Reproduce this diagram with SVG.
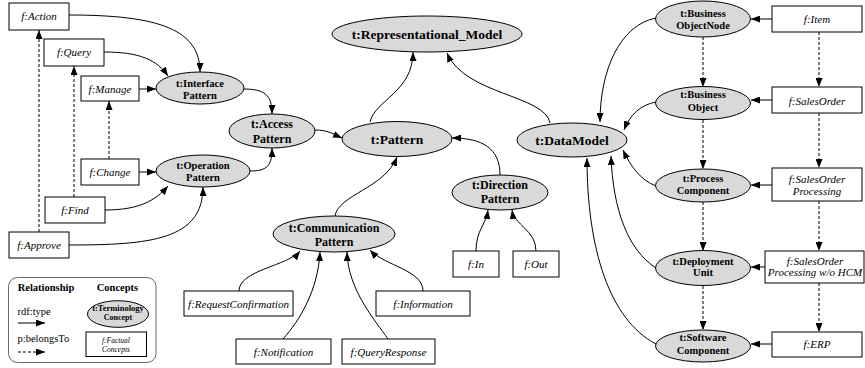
<svg xmlns="http://www.w3.org/2000/svg" width="865" height="368" viewBox="0 0 865 368">
<style>
.t{fill:#d9d9d9;stroke:#000;stroke-width:1}
.f{fill:#fff;stroke:#000;stroke-width:1}
.tt{font-family:"Liberation Serif",serif;font-weight:bold;text-anchor:middle;fill:#000}
.ft{font-family:"Liberation Serif",serif;font-style:italic;text-anchor:middle;fill:#000}
.s{fill:none;stroke:#000;stroke-width:1;marker-end:url(#a)}
.d{fill:none;stroke:#000;stroke-width:1;stroke-dasharray:3,2;marker-end:url(#a)}
.lg{font-family:"Liberation Serif",serif;fill:#000}
</style>
<defs>
<marker id="a" markerUnits="userSpaceOnUse" markerWidth="9" markerHeight="7" refX="9" refY="3.5" orient="auto">
<path d="M0,0 L9,3.5 L0,7 z" fill="#000"/>
</marker>
</defs>
<rect width="865" height="368" fill="#fff"/>

<g id="connectors">
<path class="s" d="M69,15 C160,15 200,30 200,72"/>
<path class="s" d="M104,52 C140,52 157,60 168,76"/>
<path class="s" d="M139,89 L156,89"/>
<path class="s" d="M139,172 L156,172"/>
<path class="s" d="M105,210 C140,210 156,200 168,186"/>
<path class="s" d="M69,245 C150,245 203,240 203,187"/>
<path class="s" d="M243,89 C265,89 272,95 272,114"/>
<path class="s" d="M250,171 C268,171 272,165 272,148"/>
<path class="s" d="M315,130 C328,130 333,134 342,138"/>
<path class="s" d="M370,122 C375,100 413,92 413,52"/>
<path class="s" d="M550,123 C545,95 465,95 447,53"/>
<path class="s" d="M500,175 C500,148 482,138 452,138"/>
<path class="s" d="M335,216 C338,195 385,188 397,157"/>
<path class="s" d="M476,251 C476,230 486,225 488,210"/>
<path class="s" d="M536,251 C536,230 514,225 512,210"/>
<path class="s" d="M239,291 C239,270 288,266 300,251"/>
<path class="s" d="M283,339 C300,320 318,290 320,252"/>
<path class="s" d="M388,339 C375,320 348,290 347,252"/>
<path class="s" d="M423,291 C423,270 385,266 370,250"/>
<path class="d" d="M39,232 L39,30"/>
<path class="d" d="M74,197 L74,66"/>
<path class="d" d="M109,159 L109,101"/>
<path class="s" d="M656,18 C620,25 600,70 600,122"/>
<path class="s" d="M656,102 C640,105 630,115 624,130"/>
<path class="s" d="M656,186 C640,180 630,165 623,150"/>
<path class="s" d="M656,268 C628,250 613,210 611,156"/>
<path class="s" d="M656,344 C610,320 587,250 587,158"/>
<path class="d" d="M703,37 L703,87"/>
<path class="d" d="M703,120 L703,169"/>
<path class="d" d="M703,202 L703,251"/>
<path class="d" d="M703,286 L703,330"/>
<path class="d" d="M819,32 L819,87"/>
<path class="d" d="M819,113 L819,168"/>
<path class="d" d="M819,201 L819,251"/>
<path class="d" d="M819,283 L819,332"/>
<path class="s" d="M772,19 L751,19"/>
<path class="s" d="M772,100 L751,100"/>
<path class="s" d="M772,185 L751,185"/>
<path class="s" d="M766,267 L751,267"/>
<path class="s" d="M772,344 L751,344"/>
</g>

<g id="n-repmodel"><ellipse class="t" cx="427" cy="34" rx="95" ry="18"/><text class="tt" x="427" y="39" style="font-size:13.5px">t:Representational_Model</text></g>
<g id="n-pattern"><ellipse class="t" cx="397" cy="139" rx="55" ry="17.5"/><text class="tt" x="397" y="144" style="font-size:13.5px">t:Pattern</text></g>
<g id="n-datamodel"><ellipse class="t" cx="572" cy="140" rx="55" ry="17"/><text class="tt" x="572" y="145" style="font-size:13.5px">t:DataModel</text></g>
<g id="n-interface"><ellipse class="t" cx="200" cy="88" rx="44" ry="16"/><text class="tt" x="200" y="87" style="font-size:10.5px">t:Interface</text><text class="tt" x="200" y="99" style="font-size:10.5px">Pattern</text></g>
<g id="n-operation"><ellipse class="t" cx="203" cy="171" rx="47" ry="16"/><text class="tt" x="203" y="169" style="font-size:10.5px">t:Operation</text><text class="tt" x="203" y="181" style="font-size:10.5px">Pattern</text></g>
<g id="n-access"><ellipse class="t" cx="272" cy="131" rx="43" ry="17"/><text class="tt" x="272" y="127.5" style="font-size:12px">t:Access</text><text class="tt" x="272" y="142.5" style="font-size:12px">Pattern</text></g>
<g id="n-direction"><ellipse class="t" cx="500" cy="192.5" rx="48" ry="17.5"/><text class="tt" x="500" y="188.5" style="font-size:12px">t:Direction</text><text class="tt" x="500" y="203" style="font-size:12px">Pattern</text></g>
<g id="n-communication"><ellipse class="t" cx="334" cy="234" rx="61" ry="18"/><text class="tt" x="334" y="231.5" style="font-size:12px">t:Communication</text><text class="tt" x="334" y="246" style="font-size:12px">Pattern</text></g>

<g id="n-bon"><ellipse class="t" cx="703" cy="19" rx="47.5" ry="18"/><text class="tt" x="703" y="17" style="font-size:10.5px">t:Business</text><text class="tt" x="703" y="29" style="font-size:10.5px">ObjectNode</text></g>
<g id="n-bo"><ellipse class="t" cx="703" cy="103" rx="47.5" ry="16.5"/><text class="tt" x="703" y="98" style="font-size:10.5px">t:Business</text><text class="tt" x="703" y="110.5" style="font-size:10.5px">Object</text></g>
<g id="n-pc"><ellipse class="t" cx="703" cy="185.5" rx="47.5" ry="16.5"/><text class="tt" x="703" y="182" style="font-size:10.5px">t:Process</text><text class="tt" x="703" y="194" style="font-size:10.5px">Component</text></g>
<g id="n-du"><ellipse class="t" cx="703" cy="268" rx="47.5" ry="17.5"/><text class="tt" x="703" y="264.5" style="font-size:10.5px">t:Deployment</text><text class="tt" x="703" y="276" style="font-size:10.5px">Unit</text></g>
<g id="n-sc"><ellipse class="t" cx="703" cy="346" rx="47.5" ry="16"/><text class="tt" x="703" y="341" style="font-size:10.5px">t:Software</text><text class="tt" x="703" y="353.5" style="font-size:10.5px">Component</text></g>

<g id="f-action"><rect class="f" x="9" y="3" width="60" height="27"/><text class="ft" x="39" y="20" style="font-size:11px">f:Action</text></g>
<g id="f-query"><rect class="f" x="44" y="39" width="60" height="27"/><text class="ft" x="74" y="56" style="font-size:11px">f:Query</text></g>
<g id="f-manage"><rect class="f" x="81" y="76" width="58" height="25"/><text class="ft" x="110" y="92.5" style="font-size:11px">f:Manage</text></g>
<g id="f-change"><rect class="f" x="81" y="159" width="58" height="26"/><text class="ft" x="110" y="176" style="font-size:11px">f:Change</text></g>
<g id="f-find"><rect class="f" x="45" y="197" width="60" height="26"/><text class="ft" x="75" y="214" style="font-size:11px">f:Find</text></g>
<g id="f-approve"><rect class="f" x="9" y="232" width="60" height="26"/><text class="ft" x="39" y="249" style="font-size:11px">f:Approve</text></g>

<g id="f-requestconfirmation"><rect class="f" x="184" y="291" width="109" height="25"/><text class="ft" x="238.5" y="307.5" style="font-size:11px">f:RequestConfirmation</text></g>
<g id="f-notification"><rect class="f" x="236" y="339" width="95" height="25"/><text class="ft" x="283.5" y="355.5" style="font-size:11px">f:Notification</text></g>
<g id="f-queryresponse"><rect class="f" x="342" y="339" width="93" height="25"/><text class="ft" x="388.5" y="355.5" style="font-size:11px">f:QueryResponse</text></g>
<g id="f-information"><rect class="f" x="376" y="291" width="94" height="25"/><text class="ft" x="423" y="307.5" style="font-size:11px">f:Information</text></g>
<g id="f-in"><rect class="f" x="453" y="251" width="46" height="26"/><text class="ft" x="476" y="268" style="font-size:11px">f:In</text></g>
<g id="f-out"><rect class="f" x="513" y="251" width="46" height="26"/><text class="ft" x="536" y="268" style="font-size:11px">f:Out</text></g>

<g id="f-item"><rect class="f" x="772" y="6" width="90" height="26"/><text class="ft" x="817" y="23" style="font-size:11px">f:Item</text></g>
<g id="f-salesorder"><rect class="f" x="772" y="87" width="90" height="26"/><text class="ft" x="817" y="104.5" style="font-size:11px">f:SalesOrder</text></g>
<g id="f-soprocessing"><rect class="f" x="772" y="168" width="90" height="33"/><text class="ft" x="817" y="182.5" style="font-size:11px">f:SalesOrder</text><text class="ft" x="817" y="194.5" style="font-size:11px">Processing</text></g>
<g id="f-sohcm"><rect class="f" x="765" y="251" width="99" height="32"/><text class="ft" x="815" y="264.5" style="font-size:11px">f:SalesOrder</text><text class="ft" x="815" y="276" style="font-size:11px">Processing w/o HCM</text></g>
<g id="f-erp"><rect class="f" x="772" y="332" width="90" height="25"/><text class="ft" x="817" y="348" style="font-size:11px">f:ERP</text></g>

<g id="legend">
<rect x="8.5" y="277.5" width="147.5" height="85" rx="9" ry="9" fill="#fff" stroke="#666" stroke-width="1"/>
<text class="lg" x="46" y="291" style="font-size:10.5px;font-weight:bold" text-anchor="middle">Relationship</text>
<text class="lg" x="117.5" y="291" style="font-size:10.5px;font-weight:bold" text-anchor="middle">Concepts</text>
<text class="lg" x="17.5" y="314.5" style="font-size:10.5px">rdf:type</text>
<path class="s" d="M18,323 L45,323"/>
<text class="lg" x="17.5" y="341.5" style="font-size:10.5px">p:belongsTo</text>
<path class="d" d="M18,352 L45,352"/>
<ellipse class="t" cx="118" cy="314" rx="30.5" ry="13.3"/>
<text class="tt" x="118" y="310.5" style="font-size:8.5px">t:Terminology</text>
<text class="tt" x="118" y="319.5" style="font-size:8px">Concept</text>
<rect class="f" x="86" y="332" width="60.5" height="24.5"/>
<text class="ft" x="116" y="342.5" style="font-size:7.5px">f:Factual</text>
<text class="ft" x="116" y="352" style="font-size:7.5px">Concepts</text>
</g>
</svg>
